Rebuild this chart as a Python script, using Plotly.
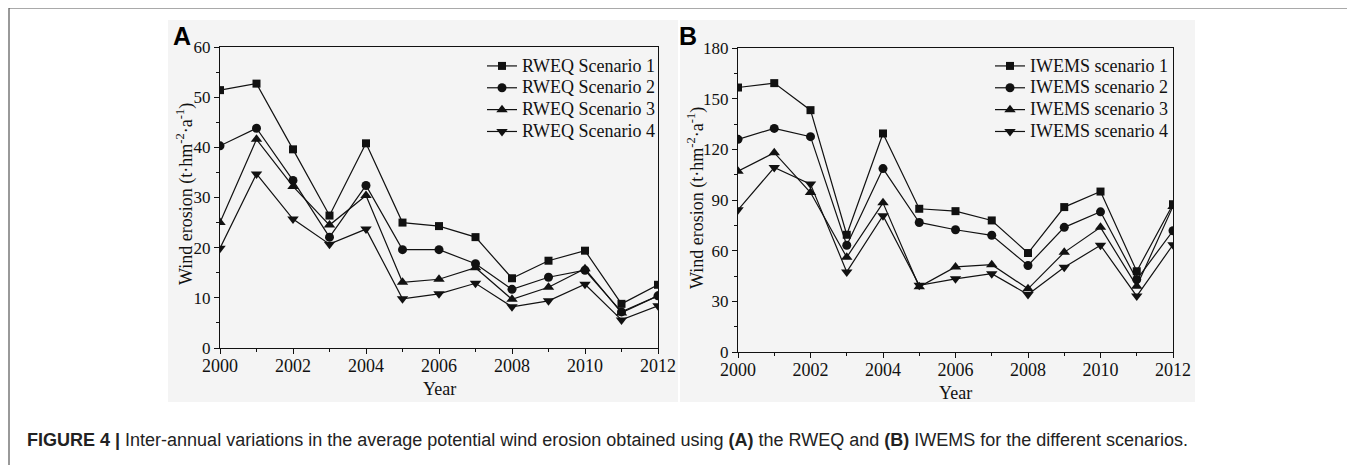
import plotly.graph_objects as go

W, H = 1355, 465
OFF = 8  # page body margin offset

years = list(range(2000, 2013))

rweq_s1 = [51.4, 52.7, 39.6, 26.4, 40.8, 25.0, 24.3, 22.1, 13.9, 17.4, 19.4, 8.8, 12.6]
rweq_s2 = [40.3, 43.8, 33.4, 22.1, 32.4, 19.6, 19.6, 16.8, 11.7, 14.1, 15.5, 7.2, 10.4]
rweq_s3 = [25.0, 41.6, 32.2, 24.5, 30.4, 13.1, 13.7, 16.0, 9.7, 12.1, 15.8, 7.0, 10.4]
rweq_s4 = [19.9, 34.7, 25.7, 20.7, 23.7, 9.8, 10.8, 12.9, 8.2, 9.4, 12.7, 5.6, 8.4]

iwems_s1 = [156.6, 159.2, 143.2, 69.4, 129.4, 84.8, 83.4, 77.9, 58.6, 85.8, 95.0, 47.8, 87.5]
iwems_s2 = [125.9, 132.4, 127.5, 63.2, 108.6, 76.7, 72.4, 69.1, 51.2, 73.8, 83.0, 42.9, 71.8]
iwems_s3 = [107.0, 118.0, 94.4, 56.1, 88.3, 38.6, 50.4, 51.7, 37.4, 59.0, 73.8, 39.0, 86.2]
iwems_s4 = [84.2, 109.2, 99.4, 47.4, 80.7, 39.5, 43.3, 46.4, 34.0, 50.2, 63.2, 33.1, 63.5]

rweq_names = ["RWEQ Scenario 1", "RWEQ Scenario 2", "RWEQ Scenario 3", "RWEQ Scenario 4"]
iwems_names = ["IWEMS scenario 1", "IWEMS scenario 2", "IWEMS scenario 3", "IWEMS scenario 4"]
symbols = ["square", "circle", "triangle-up", "triangle-down"]
sizes = [8, 9, 10, 10]

y_title = "Wind erosion (t·hm<sup>-2</sup>·a<sup>-1</sup>)"
x_title = "Year"
caption = ("<b>FIGURE 4 |</b> Inter-annual variations in the average potential wind erosion "
           "obtained using <b>(A)</b> the RWEQ and <b>(B)</b> IWEMS for the different scenarios.")

SERIF = "Liberation Serif, Times New Roman, serif"
SANS = "Liberation Sans, Arial, sans-serif"


def px(x):
    return (x - OFF) / W


def py(y):
    return 1 - (y - OFF) / H


def big(name):
    return '<span style="font-size:18px">' + name + '</span>'


fig = go.Figure()

for vals, name, sym, sz in zip([rweq_s1, rweq_s2, rweq_s3, rweq_s4], rweq_names, symbols, sizes):
    fig.add_trace(go.Scatter(x=years, y=vals, name=big(name), mode="lines+markers",
                             line=dict(color="#111", width=1.2),
                             marker=dict(symbol=sym, size=sz, color="#111"),
                             xaxis="x", yaxis="y", legend="legend"))

for vals, name, sym, sz in zip([iwems_s1, iwems_s2, iwems_s3, iwems_s4], iwems_names, symbols, sizes):
    fig.add_trace(go.Scatter(x=years, y=vals, name=big(name), mode="lines+markers",
                             line=dict(color="#111", width=1.2),
                             marker=dict(symbol=sym, size=sz, color="#111"),
                             xaxis="x2", yaxis="y2", legend="legend2"))

xcommon = dict(range=[2000, 2012], dtick=2, tick0=2000, showline=True, linecolor="#111", linewidth=1,
               mirror=True, ticks="outside", ticklen=5, tickcolor="#111", showgrid=False, zeroline=False,
               automargin=False, ticklabelstandoff=-4,
               tickfont=dict(family=SERIF, size=18, color="#111"),
               minor=dict(ticks="outside", ticklen=3, dtick=1, tickcolor="#111", showgrid=False))

ycommon = dict(showline=True, linecolor="#111", linewidth=1, mirror=True, ticks="outside",
               ticklen=5, tickcolor="#111", showgrid=False, zeroline=False, automargin=False,
               tickfont=dict(family=SERIF, size=17, color="#111"))

fig.update_layout(
    width=W, height=H, margin=dict(l=0, r=0, t=0, b=0, autoexpand=False),
    paper_bgcolor="white", plot_bgcolor="rgba(0,0,0,0)",
    xaxis=dict(domain=[px(220), px(658)], anchor="y", **xcommon),
    yaxis=dict(domain=[py(348), py(47)], anchor="x", range=[0, 60], dtick=10,
               minor=dict(ticks="outside", ticklen=3, dtick=5, tickcolor="#111", showgrid=False),
               **ycommon),
    xaxis2=dict(domain=[px(738), px(1173)], anchor="y2", **xcommon),
    yaxis2=dict(domain=[py(352), py(48)], anchor="x2", range=[0, 180], dtick=30,
                minor=dict(ticks="outside", ticklen=3, dtick=15, tickcolor="#111", showgrid=False),
                **ycommon),
    legend=dict(x=px(482), y=py(50), xanchor="left", yanchor="top", bgcolor="rgba(0,0,0,0)",
                font=dict(family=SERIF, size=14.5, color="#111"), tracegroupgap=0,
                itemsizing="trace"),
    legend2=dict(x=px(990), y=py(50), xanchor="left", yanchor="top", bgcolor="rgba(0,0,0,0)",
                 font=dict(family=SERIF, size=14.5, color="#111"), tracegroupgap=0,
                 itemsizing="trace"),
    showlegend=True,
)

shapes = [
    dict(type="rect", xref="paper", yref="paper", x0=px(168), x1=px(678), y0=py(402), y1=py(20),
         fillcolor="#f4f4f4", line=dict(width=0), layer="below"),
    dict(type="rect", xref="paper", yref="paper", x0=px(680), x1=px(1195), y0=py(402), y1=py(20),
         fillcolor="#f4f4f4", line=dict(width=0), layer="below"),
    dict(type="line", xref="paper", yref="paper", x0=px(9), x1=px(1352), y0=py(8), y1=py(8),
         line=dict(color="#555", width=1.2)),
    dict(type="line", xref="paper", yref="paper", x0=px(9), x1=px(9), y0=py(8), y1=0,
         line=dict(color="#555", width=1.2)),
    dict(type="line", xref="paper", yref="paper", x0=px(1352), x1=px(1352), y0=py(8), y1=0,
         line=dict(color="#555", width=1.2)),
]
fig.update_layout(shapes=shapes)

# axis titles
for xc, yc in [(185, 194), (696, 198)]:
    fig.add_annotation(text=y_title, x=px(xc), y=py(yc), xref="paper", yref="paper",
                       xanchor="center", yanchor="middle", textangle=-90, showarrow=False,
                       font=dict(family=SERIF, size=18, color="#111"))
for xc, yc in [(439, 389), (955, 393)]:
    fig.add_annotation(text=x_title, x=px(xc), y=py(yc), xref="paper", yref="paper",
                       xanchor="center", yanchor="middle", showarrow=False,
                       font=dict(family=SERIF, size=18, color="#111"))

fig.add_annotation(text="<b>A</b>", x=px(171), y=py(36), xref="paper", yref="paper",
                   xanchor="left", yanchor="middle", showarrow=False,
                   font=dict(family=SANS, size=25, color="#000"))
fig.add_annotation(text="<b>B</b>", x=px(677), y=py(36), xref="paper", yref="paper",
                   xanchor="left", yanchor="middle", showarrow=False,
                   font=dict(family=SANS, size=25, color="#000"))
fig.add_annotation(text=caption, x=px(25), y=py(440), xref="paper", yref="paper",
                   xanchor="left", yanchor="middle", showarrow=False,
                   font=dict(family=SANS, size=18, color="#222"))

fig.write_html("out.html")
